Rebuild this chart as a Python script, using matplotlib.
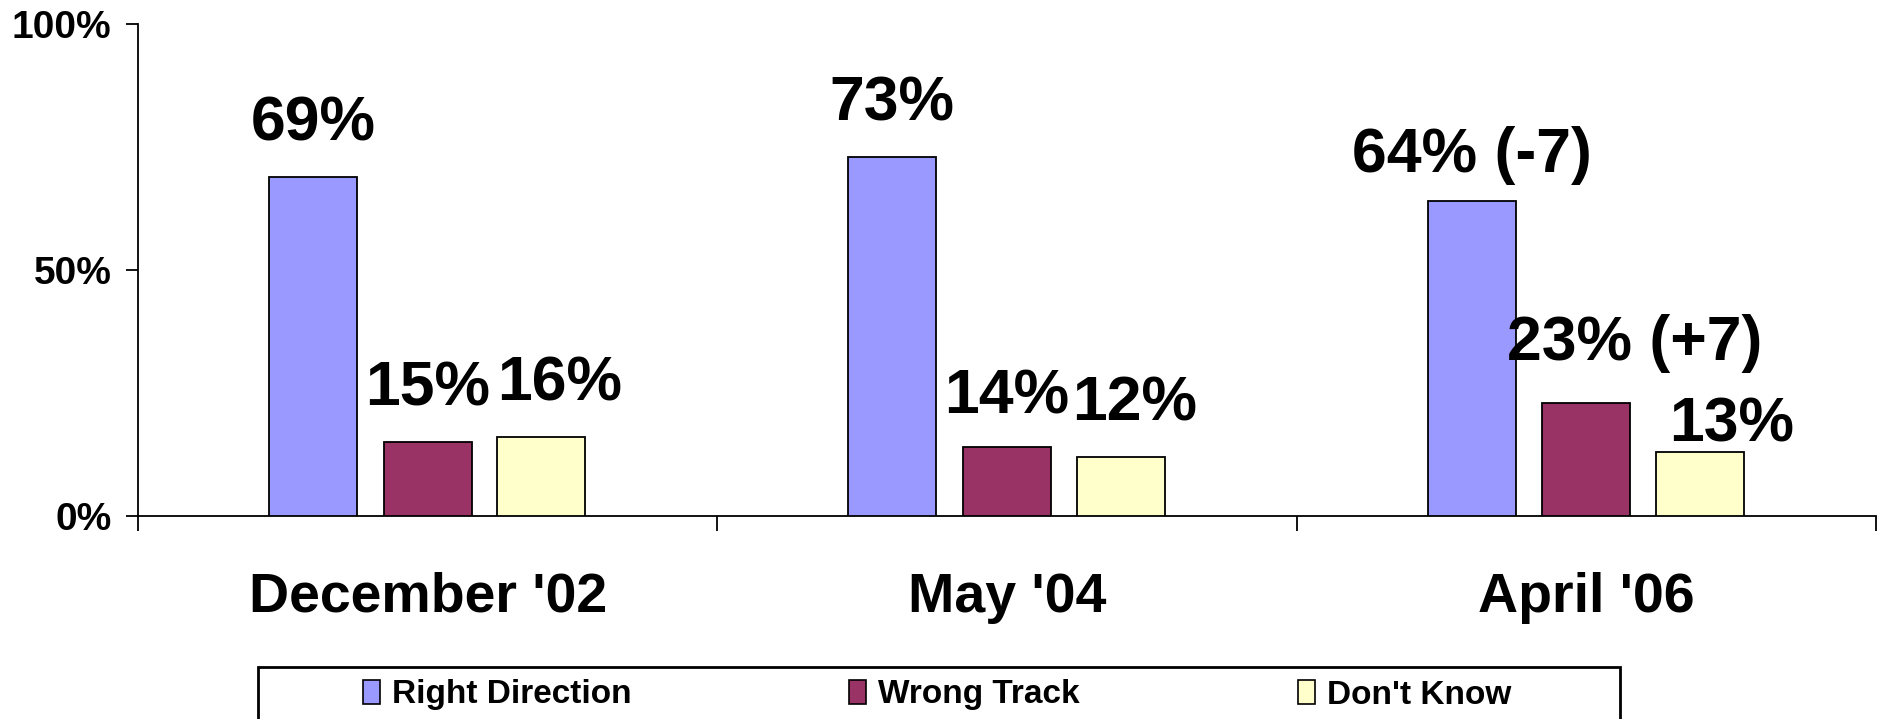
import matplotlib
matplotlib.use("Agg")
import matplotlib.pyplot as plt
from matplotlib.patches import Rectangle, Patch
import numpy as np

categories = ["December '02", "May '04", "April '06"]
series_names = ["Right Direction", "Wrong Track", "Don't Know"]
right_direction = [69, 73, 64]
wrong_track = [15, 14, 23]
dont_know = [16, 12, 13]
right_labels = ["69%", "73%", "64% (-7)"]
wrong_labels = ["15%", "14%", "23% (+7)"]
dk_labels = ["16%", "12%", "13%"]
yticks = [0, 50, 100]
ytick_labels = ["0%", "50%", "100%"]

colors = ["#9999FF", "#993366", "#FFFFCC"]
# label offsets (pixels): dx, dy above bar top
label_offsets = [
    [(0, 36), (0, 36), (0, 29)],
    [(0, 37), (0, 34), (48, 43)],
    [(18, 37), (14, 36), (32, 11)],
]

plt.rcParams['font.family'] = ['Liberation Sans', 'DejaVu Sans']
plt.rcParams['font.weight'] = 'bold'

W, H, DPI = 1881, 719, 100
fig = plt.figure(figsize=(W / DPI, H / DPI), dpi=DPI)
ax = fig.add_axes([138 / W, 1 - 516 / H, (1876 - 138) / W, (516 - 24) / H])

x = np.arange(len(categories))
width = 0.152
offsets = [-0.198, 0.0, 0.196]
all_vals = [right_direction, wrong_track, dont_know]
all_labels = [right_labels, wrong_labels, dk_labels]
px2pt = 72 / DPI
for s in range(3):
    ax.bar(x + offsets[s], all_vals[s], width, color=colors[s],
           edgecolor="black", linewidth=1.3, zorder=3)
    for i in range(len(categories)):
        dx, dy = label_offsets[s][i]
        ax.annotate(all_labels[s][i], xy=(x[i] + offsets[s], all_vals[s][i]),
                    xytext=(dx * px2pt, dy * px2pt), textcoords="offset points",
                    ha="center", va="baseline", fontsize=45, fontweight="bold")

ax.set_xlim(-0.5, len(categories) - 0.5)
ax.set_ylim(0, 100)
ax.spines["top"].set_visible(False)
ax.spines["right"].set_visible(False)
ax.spines["left"].set_linewidth(1.3)
ax.spines["bottom"].set_linewidth(1.3)

ax.set_yticks(yticks)
ax.set_yticklabels(ytick_labels, fontsize=28, fontweight="bold")
ax.tick_params(axis="y", length=9, width=1.3, pad=10)

ax.set_xticks(np.arange(len(categories) + 1) - 0.5)
ax.set_xticklabels([])
ax.tick_params(axis="x", which="major", length=11, width=1.3, direction="out")
ax.set_xticks(x, minor=True)
ax.set_xticklabels(categories, minor=True, fontsize=40, fontweight="bold")
ax.tick_params(axis="x", which="minor", length=0, pad=40)

# legend box
fig.patches.append(Rectangle((258 / W, -0.1), (1620 - 258) / W, 0.1 + (1 - 667 / H),
                             transform=fig.transFigure, fill=False,
                             edgecolor="black", linewidth=2, clip_on=False))
handles = [Patch(facecolor=colors[s], edgecolor="black", linewidth=1.2) for s in range(3)]
fig.legend(handles, series_names, loc="center", bbox_to_anchor=(937 / W, 1 - 695 / H),
           ncol=3, frameon=False, prop={"weight": "bold", "size": 24},
           handlelength=0.5, handleheight=0.7, handletextpad=0.36,
           columnspacing=6.55, borderpad=0, borderaxespad=0)

fig.savefig("out.png", dpi=DPI)
